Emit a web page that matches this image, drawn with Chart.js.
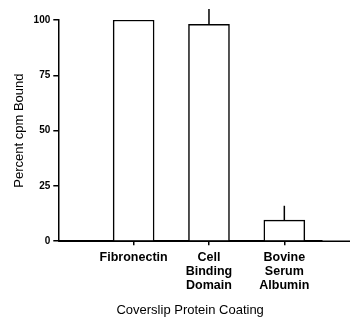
<!DOCTYPE html>
<html>
<head>
<meta charset="utf-8">
<script src="https://cdn.jsdelivr.net/npm/chart.js@4/dist/chart.umd.min.js"></script>
<style>
  html, body { margin: 0; padding: 0; background: #fff; }
  #wrap { width: 350px; height: 318px; }
</style>
</head>
<body>
<div id="wrap"><canvas id="bindChart" width="350" height="318"></canvas></div>
<script>
// coating categories (multi-line tick labels) and their slot on the x axis
const categories = [['Fibronectin'], ['Cell', 'Binding', 'Domain'], ['Bovine', 'Serum', 'Albumin']];
const slots = [1, 2, 3];
// percent cpm bound, mean and upper error
const percentBound = [100, 98, 9.5];
const errorUp = [0, 7, 6.5];
const yTicks = [0, 25, 50, 75, 100];

const FONT = "'Liberation Sans', Arial, sans-serif";

// draws the one-sided error bars (no caps) above each bar
const errorBars = {
    id: 'errorBars',
    afterDatasetsDraw(chart) {
        const ctx = chart.ctx;
        const xs = chart.scales.x, ys = chart.scales.y;
        ctx.save();
        ctx.strokeStyle = '#000';
        ctx.lineWidth = 1.5;
        percentBound.forEach((v, i) => {
            if (!errorUp[i]) return;
            const px = xs.getPixelForValue(slots[i]);
            ctx.beginPath();
            ctx.moveTo(px, ys.getPixelForValue(v));
            ctx.lineTo(px, ys.getPixelForValue(v + errorUp[i]));
            ctx.stroke();
        });
        ctx.restore();
    }
};

// x axis line (redrawn over the bar feet) running on to the right edge of the figure
const axisTail = {
    id: 'axisTail',
    afterDraw(chart) {
        const ctx = chart.ctx, a = chart.chartArea;
        ctx.save();
        ctx.strokeStyle = '#000';
        ctx.lineWidth = 1.5;
        ctx.beginPath();
        ctx.moveTo(a.left, a.bottom);
        ctx.lineTo(chart.width, a.bottom);
        ctx.stroke();
        ctx.restore();
    }
};

new Chart(document.getElementById('bindChart'), {
    type: 'bar',
    data: {
        datasets: [{
            data: slots.map((s, i) => ({ x: s, y: percentBound[i] })),
            backgroundColor: '#fff',
            borderColor: '#000',
            borderWidth: 1.5,
            barThickness: 41
        }]
    },
    options: {
        responsive: false,
        animation: false,
        layout: { padding: { top: 20, right: 28, left: 12, bottom: 0 } },
        plugins: { legend: { display: false }, tooltip: { enabled: false } },
        scales: {
            x: {
                type: 'linear',
                offset: false,
                min: 0,
                max: 3.5,
                afterBuildTicks: (scale) => { scale.ticks = slots.map(v => ({ value: v })); },
                ticks: {
                    autoSkip: false,
                    maxRotation: 0,
                    padding: 6,
                    color: '#000',
                    font: { family: FONT, size: 12.5, weight: 'bold', lineHeight: 1.1 },
                    callback: (v) => categories[slots.indexOf(v)]
                },
                grid: { offset: false, drawOnChartArea: false, tickLength: 4, color: '#000', lineWidth: 1.5 },
                border: { color: '#000', width: 1.5 },
                title: {
                    display: true,
                    text: 'Coverslip Protein Coating',
                    color: '#000',
                    font: { family: FONT, size: 13 },
                    padding: { top: 4, bottom: 0 }
                }
            },
            y: {
                min: 0,
                max: 100,
                afterBuildTicks: (scale) => { scale.ticks = yTicks.map(v => ({ value: v })); },
                ticks: {
                    padding: 3,
                    color: '#000',
                    font: { family: FONT, size: 10, weight: 'bold' }
                },
                grid: { drawOnChartArea: false, tickLength: 5, color: '#000', lineWidth: 1.5 },
                border: { color: '#000', width: 1.5 },
                title: {
                    display: true,
                    text: 'Percent cpm Bound',
                    color: '#000',
                    font: { family: FONT, size: 13 },
                    padding: { top: 0, bottom: 3 }
                }
            }
        }
    },
    plugins: [errorBars, axisTail]
});
</script>
</body>
</html>
